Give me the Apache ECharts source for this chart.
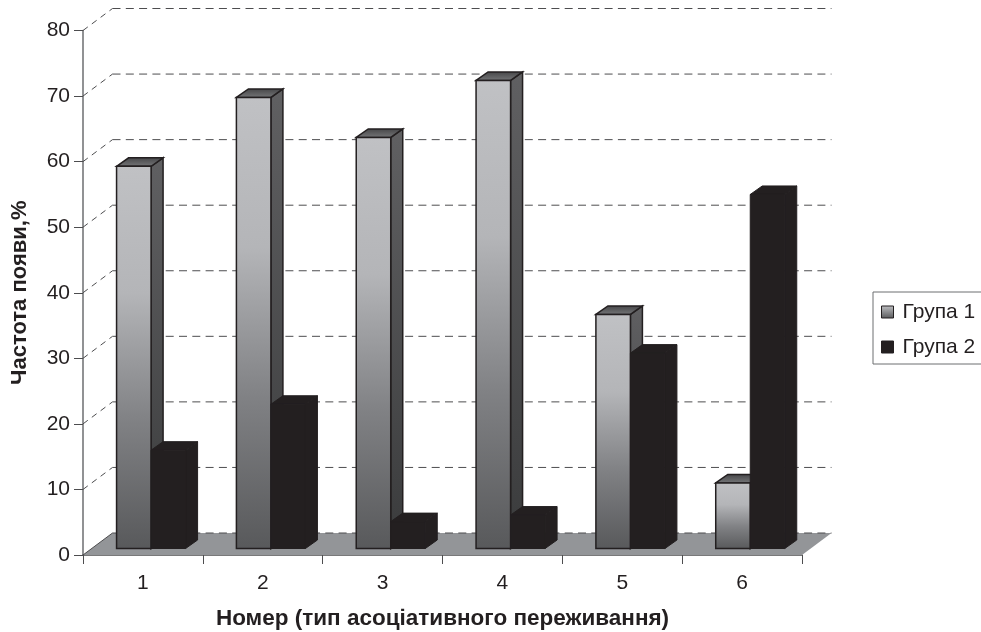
<!DOCTYPE html>
<html>
<head>
<meta charset="utf-8">
<style>
  html, body { margin: 0; padding: 0; background: #fff; overflow: hidden; }
  #chart { width: 981px; height: 632px; }
</style>
<script src="https://cdn.jsdelivr.net/npm/echarts@6/dist/echarts.min.js"></script>
</head>
<body>
<div id="chart"></div>
<script>
const categories = ['1', '2', '3', '4', '5', '6']
const group1 = [58.3, 68.8, 62.7, 71.4, 35.7, 10]
const group2 = [15, 22, 4.1, 5.1, 29.8, 54]
const wallTicks = [0, 10, 20, 30, 40, 50, 60, 70, 80]

const FONT = '"Liberation Sans", Arial, sans-serif'
const INK = '#231f20'

// псевдо-3D: смещения стенки и столбика в пикселях
const WALL_DX = 29.5
const WALL_DY = -22
const BAR_DX = 9
const BAR_DY = -6.5
const BAR_DEPTH_X = 12
const BAR_DEPTH_Y = -8.5
const BAR_SIDE_GAP = 0.205
const BAR_WIDTH = 0.288

function gradient(x2, y2, stops) {
  return {
    type: 'linear', x: 0, y: 0, x2: x2, y2: y2,
    colorStops: stops.map((c, i) => ({ offset: i / (stops.length - 1), color: c }))
  }
}

const frontFill = gradient(0, 1, ['#c0c1c4', '#b4b5b8', '#808184', '#58595b'])
const sideFill = gradient(0, 1, ['#606062', '#3a3b3c'])
const topFill = gradient(0, 1, ['#444446', '#77787a'])

function quad(pts, fill, stroke, lw) {
  return {
    type: 'polygon',
    shape: { points: pts },
    style: { fill: fill, stroke: stroke, lineWidth: lw, lineJoin: 'miter' }
  }
}

function renderBar(slot, styled) {
  return function (params, api) {
    const base = api.coord([api.value(0), 0])
    const top = api.coord([api.value(0), api.value(1)])
    const band = api.size([1, 0])[0]
    const w = band * BAR_WIDTH
    const x0 = base[0] - band / 2 + BAR_DX + band * BAR_SIDE_GAP + slot * w
    const x1 = x0 + w
    const yb = base[1] + BAR_DY
    const yt = top[1] + BAR_DY
    const dx = BAR_DEPTH_X
    const dy = BAR_DEPTH_Y
    const lw = styled ? 1.5 : 1
    const side = [[x1, yt], [x1 + dx, yt + dy], [x1 + dx, yb + dy], [x1, yb]]
    const roof = [[x0, yt], [x0 + dx, yt + dy], [x1 + dx, yt + dy], [x1, yt]]
    const front = [[x0, yt], [x1, yt], [x1, yb], [x0, yb]]
    return {
      type: 'group',
      children: [
        quad(side, styled ? sideFill : INK, INK, lw),
        quad(roof, styled ? topFill : INK, INK, lw),
        quad(front, styled ? frontFill : INK, INK, lw)
      ]
    }
  }
}

function renderWall(params, api) {
  const v = api.value(1)
  const sys = params.coordSys
  const p = api.coord([0, v])
  const y = p[1]
  const left = sys.x
  const right = sys.x + sys.width
  const dash = { stroke: '#4d4d4f', lineWidth: 1, lineDash: [8, 5.3], fill: null }
  const children = []
  if (v === 0) {
    children.push(quad([[left, y], [left + WALL_DX, y + WALL_DY], [right + WALL_DX, y + WALL_DY], [right, y]], '#939598', null, 0))
    children.push({
      type: 'line',
      shape: { x1: left, y1: y, x2: left + WALL_DX, y2: y + WALL_DY },
      style: { stroke: '#4d4d4f', lineWidth: 1 }
    })
  } else {
    children.push({
      type: 'line',
      shape: { x1: left, y1: y, x2: left + WALL_DX, y2: y + WALL_DY },
      style: { stroke: '#4d4d4f', lineWidth: 1, lineDash: [6, 5], fill: null }
    })
  }
  children.push({
    type: 'line',
    shape: { x1: left + WALL_DX, y1: y + WALL_DY, x2: right + WALL_DX, y2: y + WALL_DY },
    style: dash
  })
  return { type: 'group', children: children }
}

const myChart = echarts.init(document.getElementById('chart'))
myChart.setOption({
  animation: false,
  backgroundColor: '#fff',
  textStyle: { fontFamily: FONT, color: INK },
  grid: { left: 83, top: 30.5, width: 719, height: 524.5, outerBoundsMode: 'none' },
  legend: {
    orient: 'vertical',
    left: 873,
    top: 292,
    padding: [7, 60, 4, 8],
    itemWidth: 12,
    itemHeight: 12,
    itemGap: 9,
    borderColor: '#6d6e71',
    borderWidth: 1,
    backgroundColor: '#fff',
    textStyle: { fontFamily: FONT, fontSize: 21, color: INK, lineHeight: 26, padding: [0, 0, 0, 4] },
    data: [
      { name: 'Група 1', icon: 'rect', itemStyle: { color: gradient(0, 1, ['#c0c1c4', '#58595b']), borderColor: INK, borderWidth: 1 } },
      { name: 'Група 2', icon: 'rect', itemStyle: { color: INK, borderColor: INK, borderWidth: 1 } }
    ]
  },
  xAxis: {
    type: 'category',
    data: categories,
    name: 'Номер (тип асоціативного переживання)',
    nameLocation: 'middle',
    nameGap: 52,
    nameTextStyle: { fontFamily: FONT, fontSize: 22.5, fontWeight: 'bold', color: INK },
    axisLine: { lineStyle: { color: '#4d4d4f', width: 1.5 } },
    axisTick: { show: true, length: 9, alignWithLabel: false, lineStyle: { color: '#4d4d4f', width: 1 } },
    axisLabel: { fontFamily: FONT, fontSize: 21, color: INK, margin: 18 },
    splitLine: { show: false }
  },
  yAxis: {
    type: 'value',
    min: 0,
    max: 80,
    interval: 10,
    name: 'Частота появи,%',
    nameLocation: 'middle',
    nameGap: 52,
    nameTextStyle: { fontFamily: FONT, fontSize: 22, fontWeight: 'bold', color: INK },
    axisLine: { show: true, lineStyle: { color: '#6d6e71', width: 1.5 } },
    axisTick: { show: true, length: 9, lineStyle: { color: '#4d4d4f', width: 1 } },
    axisLabel: { fontFamily: FONT, fontSize: 21, color: INK, margin: 13 },
    splitLine: { show: false }
  },
  series: [
    {
      type: 'custom',
      name: 'wall',
      z: 1,
      silent: true,
      renderItem: renderWall,
      encode: { x: 0, y: 1 },
      data: wallTicks.map(v => [0, v])
    },
    {
      type: 'custom',
      name: 'Група 1',
      z: 3,
      silent: true,
      renderItem: renderBar(0, true),
      encode: { x: 0, y: 1 },
      data: group1.map((v, i) => [i, v])
    },
    {
      type: 'custom',
      name: 'Група 2',
      z: 4,
      silent: true,
      renderItem: renderBar(1, false),
      encode: { x: 0, y: 1 },
      data: group2.map((v, i) => [i, v])
    }
  ]
})
window.addEventListener('resize', () => {
  myChart.resize()
})
</script>
</body>
</html>
